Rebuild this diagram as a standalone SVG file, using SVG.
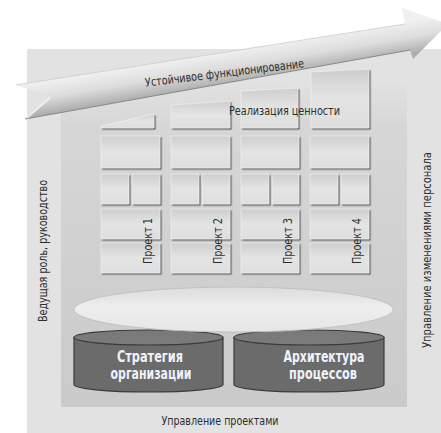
<svg xmlns="http://www.w3.org/2000/svg" width="441" height="433" viewBox="0 0 441 433">
<defs>
<style>
.t{font-family:"Liberation Sans Narrow","DejaVu Sans Condensed","Liberation Sans",Arial,sans-serif;fill:#2e2e2e;font-size:12px}
.cy{font-family:"Liberation Sans Narrow","DejaVu Sans Condensed","Liberation Sans",Arial,sans-serif;fill:#eef3fa;font-size:15.5px;font-weight:bold;text-anchor:middle}
.bx{fill:url(#boxg);stroke:#f4f4f4;stroke-width:0.6;filter:url(#ds)}
.body{fill:#6b6b6b;stroke:#3a3a3a;stroke-width:1.2}
.top{fill:#7a7a7a;stroke:#3a3a3a;stroke-width:1.2}
</style>
<linearGradient id="rib" gradientUnits="userSpaceOnUse" x1="220" y1="52" x2="225.4" y2="84.6">
<stop offset="0" stop-color="#f0f0f0"/><stop offset="0.5" stop-color="#dddddd"/><stop offset="1" stop-color="#adadad"/>
</linearGradient>
<linearGradient id="inner" x1="0" y1="0" x2="0" y2="1">
<stop offset="0" stop-color="#e2e2e2"/><stop offset="0.15" stop-color="#d6d6d6"/><stop offset="1" stop-color="#cacaca"/>
</linearGradient>
<linearGradient id="boxg" x1="0" y1="0" x2="0" y2="1">
<stop offset="0" stop-color="#cecece"/><stop offset="0.5" stop-color="#e4e4e4"/><stop offset="1" stop-color="#dedede"/>
</linearGradient>
<linearGradient id="ell" x1="0" y1="0" x2="0" y2="1">
<stop offset="0" stop-color="#dcdcdc"/><stop offset="0.45" stop-color="#eeeeee"/><stop offset="1" stop-color="#e6e6e6"/>
</linearGradient>
<filter id="ds" x="-10%" y="-10%" width="130%" height="130%">
<feDropShadow dx="1.4" dy="1.4" stdDeviation="0.3" flood-color="#666666" flood-opacity="1"/>
</filter>
</defs>
<rect width="441" height="433" fill="#ffffff"/>
<g id="panels">
<rect x="27" y="49" width="414" height="384" fill="#e2e2e2"/>
<rect x="61" y="80" width="346" height="327" fill="url(#inner)"/>
</g>
<g id="ribbon">
<polygon points="16,85 51,97 25,119 410,50 413,59 448,24 402,8 405,24" fill="url(#rib)"/>
<line x1="25" y1="119" x2="410" y2="50" stroke="#8a8a8a" stroke-width="1.2"/>
<line x1="16" y1="85" x2="405" y2="24" stroke="#cccccc" stroke-width="0.8"/>
<line x1="50" y1="98" x2="27" y2="118" stroke="#f8f8f8" stroke-width="1.2"/>
<text class="t" x="225" y="77" text-anchor="middle" textLength="160" lengthAdjust="spacingAndGlyphs" transform="rotate(-7 225 77)">Устойчивое функционирование</text>
</g>
<g id="value-row">
<polygon class="bx" points="101,126 154,114 154,128 101,128"/>
<polygon class="bx" points="171,105 230,101 230,128 171,128"/>
<polygon class="bx" points="241,91 298,88 298,128 241,128"/>
<polygon class="bx" points="311,72 369,69 369,128 311,128"/>
<text class="t" x="229" y="115" textLength="111" lengthAdjust="spacingAndGlyphs">Реализация ценности</text>
</g>
<g id="project1">
<rect class="bx" x="101" y="136" width="59" height="32"/>
<rect class="bx" x="101" y="174" width="28" height="30"/>
<rect class="bx" x="132" y="174" width="28" height="30"/>
<rect class="bx" x="101" y="209" width="59" height="30"/>
<rect class="bx" x="101" y="243" width="59" height="30"/>
<text class="t" x="0" y="0" text-anchor="middle" textLength="46" lengthAdjust="spacingAndGlyphs" transform="translate(152 241) rotate(-90)">Проект 1</text>
</g>
<g id="project2">
<rect class="bx" x="171" y="136" width="59" height="32"/>
<rect class="bx" x="171" y="174" width="28" height="30"/>
<rect class="bx" x="202" y="174" width="28" height="30"/>
<rect class="bx" x="171" y="209" width="59" height="30"/>
<rect class="bx" x="171" y="243" width="59" height="30"/>
<text class="t" x="0" y="0" text-anchor="middle" textLength="46" lengthAdjust="spacingAndGlyphs" transform="translate(222 241) rotate(-90)">Проект 2</text>
</g>
<g id="project3">
<rect class="bx" x="241" y="136" width="58" height="32"/>
<rect class="bx" x="241" y="174" width="28" height="30"/>
<rect class="bx" x="272" y="174" width="27" height="30"/>
<rect class="bx" x="241" y="209" width="58" height="30"/>
<rect class="bx" x="241" y="243" width="58" height="30"/>
<text class="t" x="0" y="0" text-anchor="middle" textLength="46" lengthAdjust="spacingAndGlyphs" transform="translate(292 241) rotate(-90)">Проект 3</text>
</g>
<g id="project4">
<rect class="bx" x="310" y="136" width="59" height="32"/>
<rect class="bx" x="310" y="174" width="28" height="30"/>
<rect class="bx" x="341" y="174" width="28" height="30"/>
<rect class="bx" x="310" y="209" width="59" height="30"/>
<rect class="bx" x="310" y="243" width="59" height="30"/>
<text class="t" x="0" y="0" text-anchor="middle" textLength="46" lengthAdjust="spacingAndGlyphs" transform="translate(361 241) rotate(-90)">Проект 4</text>
</g>
<g id="strategy">
<path class="body" d="M74,337.5 L74,384.5 A74.5,7.5 0 0 0 223,384.5 L223,337.5 Z"/>
<ellipse class="top" cx="148.5" cy="337.5" rx="74.5" ry="7.5"/>
<text class="cy" x="150" y="362" textLength="66" lengthAdjust="spacingAndGlyphs">Стратегия</text>
<text class="cy" x="151" y="379" textLength="81" lengthAdjust="spacingAndGlyphs">организации</text>
</g>
<g id="architecture">
<path class="body" d="M234,337.5 L234,384.5 A75,7.5 0 0 0 384,384.5 L384,337.5 Z"/>
<ellipse class="top" cx="309" cy="337.5" rx="75" ry="7.5"/>
<text class="cy" x="324" y="362" textLength="81" lengthAdjust="spacingAndGlyphs">Архитектура</text>
<text class="cy" x="323" y="379" textLength="68" lengthAdjust="spacingAndGlyphs">процессов</text>
</g>
<g id="platform">
<ellipse cx="233.5" cy="309.5" rx="159.5" ry="22.5" fill="url(#ell)" stroke="#c2c2c2" stroke-width="1"/>
</g>
<g id="labels">
<text class="t" x="0" y="0" text-anchor="middle" textLength="142" lengthAdjust="spacingAndGlyphs" transform="translate(47 251) rotate(-90)">Ведущая роль, руководство</text>
<text class="t" x="0" y="0" text-anchor="middle" textLength="196" lengthAdjust="spacingAndGlyphs" transform="translate(431 250) rotate(-90)">Управление изменениями персонала</text>
<text class="t" x="220" y="425" text-anchor="middle" textLength="117" lengthAdjust="spacingAndGlyphs">Управление проектами</text>
</g>
</svg>
